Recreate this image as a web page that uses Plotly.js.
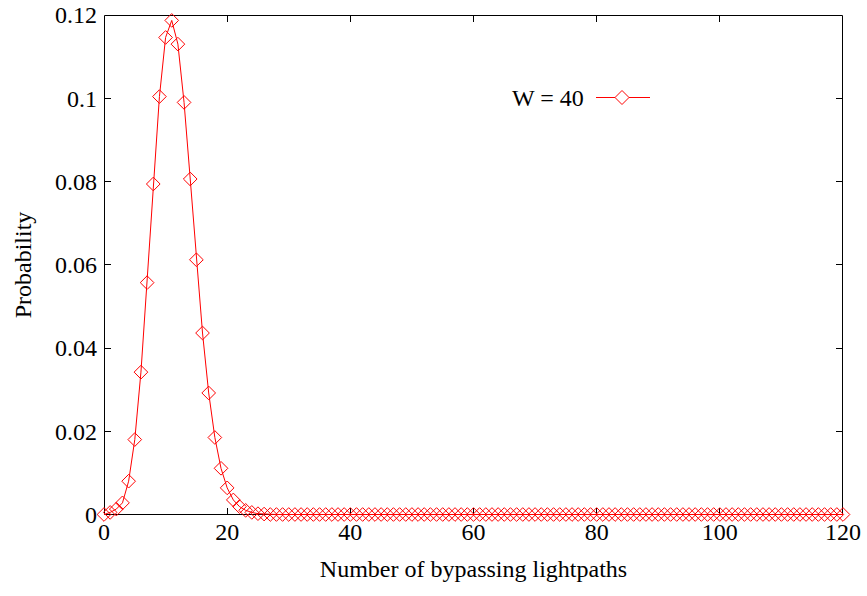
<!DOCTYPE html>
<html>
<head>
<meta charset="utf-8">
<script src="https://cdn.plot.ly/plotly-3.0.1.min.js"></script>
<style>html,body{margin:0;padding:0;background:#fff;}#chart{width:867px;height:596px;}</style>
</head>
<body>
<div id="chart"></div>
<script>
// Number of bypassing lightpaths (0..120)
var lightpaths = [];
for (var i = 0; i <= 120; i++) lightpaths.push(i);

// Probability for W = 40
var probW40 = [
  0.0000, 0.0005, 0.0013, 0.0028, 0.0080, 0.0180, 0.0342, 0.0557, 0.0794, 0.1004,
  0.1146, 0.1187, 0.1130, 0.0990, 0.0806, 0.0612, 0.0436, 0.0292, 0.0185, 0.0111,
  0.0064, 0.0035, 0.0019, 0.0010, 0.0005, 0.0002, 0.0001, 0, 0, 0,
  0, 0, 0, 0, 0, 0, 0, 0, 0, 0,
  0, 0, 0, 0, 0, 0, 0, 0, 0, 0,
  0, 0, 0, 0, 0, 0, 0, 0, 0, 0,
  0, 0, 0, 0, 0, 0, 0, 0, 0, 0,
  0, 0, 0, 0, 0, 0, 0, 0, 0, 0,
  0, 0, 0, 0, 0, 0, 0, 0, 0, 0,
  0, 0, 0, 0, 0, 0, 0, 0, 0, 0,
  0, 0, 0, 0, 0, 0, 0, 0, 0, 0,
  0, 0, 0, 0, 0, 0, 0, 0, 0, 0,
  0
];
var seriesName = "W = 40";
var xTitle = "Number of bypassing lightpaths";
var yTitle = "Probability";

// layout geometry (pixels)
var L = 104, R = 843, T = 15, B = 515;     // plot area
var Y0PX = 514.5;                          // where data y=0 lands
var yMin = -0.00012, yMax = 0.12;
function px(x){ return (x - L) / (R - L); }
function py(y){ return (B - y) / (B - T); }

var FONT = 'Times New Roman, Times, Liberation Serif, DejaVu Serif, serif';

var trace = {
  x: lightpaths, y: probW40, type: 'scatter', mode: 'lines+markers',
  name: seriesName, showlegend: false,
  line: {color: '#ff0000', width: 1},
  marker: {symbol: 'diamond-open', size: 10.5, color: '#ff0000', line: {color: '#ff0000', width: 1}},
  cliponaxis: false
};

var lx = 622, ly = 97.5, dw = 7, dh = 7;
var diamond = 'M ' + px(lx - dw) + ' ' + py(ly) + ' L ' + px(lx) + ' ' + py(ly - dh) +
  ' L ' + px(lx + dw) + ' ' + py(ly) + ' L ' + px(lx) + ' ' + py(ly + dh) + ' Z';
var frame = 'M ' + px(L + 0.5) + ' ' + py(Y0PX) + ' L ' + px(R - 0.5) + ' ' + py(Y0PX) +
  ' L ' + px(R - 0.5) + ' ' + py(T + 0.5) + ' L ' + px(L + 0.5) + ' ' + py(T + 0.5) + ' Z';

var layout = {
  width: 867, height: 596,
  margin: {l: L, r: 867 - R, t: T, b: 596 - B},
  paper_bgcolor: '#fff', plot_bgcolor: 'rgba(0,0,0,0)',
  font: {family: FONT, size: 24, color: '#000'},
  xaxis: {
    range: [0, 120], dtick: 20, tick0: 0,
    showgrid: false, zeroline: false, layer: 'below traces',
    showline: false, mirror: 'ticks',
    ticks: 'inside', ticklen: 7, tickcolor: '#000', tickwidth: 1,
    tickfont: {family: FONT, size: 24},
    title: {text: xTitle, standoff: 16, font: {family: FONT, size: 24}}
  },
  yaxis: {
    range: [yMin, yMax], dtick: 0.02, tick0: 0,
    showgrid: false, zeroline: false, layer: 'below traces',
    showline: false, mirror: 'ticks',
    ticks: 'inside', ticklen: 7, tickcolor: '#000', tickwidth: 1,
    ticklabelstandoff: 6,
    tickfont: {family: FONT, size: 24},
    title: {text: yTitle, standoff: 16, font: {family: FONT, size: 24}}
  },
  shapes: [
    {type: 'path', xref: 'paper', yref: 'paper', path: frame, layer: 'below',
     line: {color: '#000', width: 1}},
    {type: 'line', xref: 'paper', yref: 'paper', x0: px(596), x1: px(650), y0: py(ly), y1: py(ly),
     line: {color: '#ff0000', width: 1}},
    {type: 'path', xref: 'paper', yref: 'paper', path: diamond, fillcolor: '#ffffff',
     line: {color: '#ff0000', width: 1}}
  ],
  annotations: [
    {xref: 'paper', yref: 'paper', x: px(586), y: py(ly), xanchor: 'right', yanchor: 'middle',
     text: seriesName, showarrow: false, font: {family: FONT, size: 24, color: '#000'}}
  ]
};

Plotly.newPlot('chart', [trace], layout, {displayModeBar: false, staticPlot: true});
</script>
</body>
</html>
